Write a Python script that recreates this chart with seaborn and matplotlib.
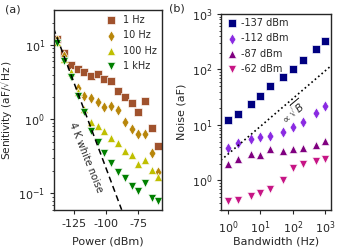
import numpy as np
import pandas as pd
import matplotlib
matplotlib.use('Agg')
import matplotlib.pyplot as plt
import matplotlib.ticker as mticker
import seaborn as sns

# Panel (a): sensitivity vs drive power
power_dbm = [-138, -132.5, -127.5, -122, -117, -112, -106.5, -101.5,
             -96, -91, -85.5, -80, -75, -70, -64.5, -59.5]
sens_1hz = [11.9, 7.7, 5.3, 4.7, 4.3, 3.8, 4.1, 3.45, 3.3, 2.42, 2.0, 1.64, 1.24, 1.76, 0.77, 0.44]
sens_10hz = [11.7, 7.1, 3.9, 2.63, 2.08, 1.96, 1.70, 1.48, 1.50, 1.33, 0.93, 0.74, 0.64, 0.64, 0.35, 0.194]
sens_100hz = [11.0, 6.5, 4.3, 2.32, 1.37, 0.92, 0.81, 0.69, 0.56, 0.48, 0.37, 0.33, 0.25, 0.28, 0.206, 0.166]
sens_1khz = [10.6, 6.0, 3.7, 2.05, 1.25, 0.69, 0.49, 0.35, 0.256, 0.194, 0.161, 0.124, 0.106, 0.136, 0.087, 0.079]
white_power = [-141, -88]
white_sens = [17.0, 0.06]

# Panel (b): noise vs bandwidth
bandwidth = [1, 2, 5, 10, 20, 50, 100, 200, 500, 1000]
noise_137 = [12.1, 15.8, 24.0, 32.9, 49.9, 73.8, 103, 147, 235, 325]
noise_112 = [3.84, 4.73, 5.58, 6.2, 6.27, 7.41, 9.13, 11.3, 16.5, 21.7]
noise_87 = [2.02, 2.43, 3.0, 2.9, 3.68, 3.4, 3.62, 3.84, 4.4, 5.05]
noise_62 = [0.436, 0.452, 0.531, 0.589, 0.698, 1.03, 1.69, 1.97, 2.26, 2.44]
sqrt_bw = [0.6, 1600]
sqrt_noise = [2.32, 120]
bw_ticks = [1, 10, 100, 1000]

sns.set_style('ticks')
plt.rcParams['font.family'] = ['DejaVu Sans']
plt.rcParams['mathtext.fontset'] = 'dejavusans'
plt.rcParams['axes.unicode_minus'] = False
plt.rcParams['font.size'] = 8
plt.rcParams['xtick.major.size'] = 3
plt.rcParams['ytick.major.size'] = 3
plt.rcParams['ytick.minor.size'] = 1.8
plt.rcParams['axes.linewidth'] = 1.0

fig = plt.figure(figsize=(3.38, 2.5), dpi=100)
ax1 = fig.add_axes([0.160, 0.16, 0.3195, 0.80])
ax2 = fig.add_axes([0.655, 0.16, 0.325, 0.784])

left_series = [
    ('1 Hz', sens_1hz, 's', 'sienna'),
    ('10 Hz', sens_10hz, 'd', 'darkgoldenrod'),
    ('100 Hz', sens_100hz, '^', 'y'),
    ('1 kHz', sens_1khz, 'v', 'green'),
]
for label, vals, mk, col in left_series:
    df = pd.DataFrame({'power': power_dbm, 'sens': vals})
    sns.scatterplot(data=df, x='power', y='sens', marker=mk, color=col,
                    s=34, label=label, ax=ax1)
ax1.plot(white_power, white_sens, ls='--', color='k', lw=1.1, dashes=(4, 2.5))
ax1.set_yscale('log')
ax1.set_xlim(-140.5, -56.6)
ax1.set_ylim(0.0596, 29.7)
ax1.set_xticks([-125, -100, -75])
ax1.set_xticklabels(['-125', '-100', '-75'])
ax1.set_xlabel('Power (dBm)')
ax1.set_ylabel(r'Senitivity (aF/$\sqrt{\mathrm{Hz}}$)', fontsize=7.6)
ax1.xaxis.set_label_coords(0.5, -0.13)
ax1.yaxis.set_label_coords(-0.36, 0.5)
ax1.text(-116, 0.30, '4 K white noise', rotation=-68, ha='center', va='center',
         fontsize=7)
ax1.legend(loc='upper right', frameon=False, fontsize=7, handletextpad=0.3,
           borderaxespad=0.2, labelspacing=0.55, borderpad=0.3)

right_series = [
    ('-137 dBm', noise_137, 's', 'navy'),
    ('-112 dBm', noise_112, 'd', 'blueviolet'),
    ('-87 dBm', noise_87, '^', 'purple'),
    ('-62 dBm', noise_62, 'v', 'mediumvioletred'),
]
for label, vals, mk, col in right_series:
    df = pd.DataFrame({'bw': bandwidth, 'noise': vals})
    sns.scatterplot(data=df, x='bw', y='noise', marker=mk, color=col,
                    s=34, label=label, ax=ax2)
ax2.plot(sqrt_bw, sqrt_noise, ls=':', color='k', lw=1.2)
ax2.set_xscale('log')
ax2.set_yscale('log')
ax2.set_xlim(0.62, 1530)
ax2.set_ylim(0.294, 1000)
ax2.xaxis.set_major_locator(mticker.FixedLocator(bw_ticks))
ax2.xaxis.set_major_formatter(mticker.LogFormatterSciNotation())
ax2.xaxis.set_minor_locator(mticker.NullLocator())
ax2.set_xlabel('Bandwidth (Hz)')
ax2.set_ylabel('Noise (aF)')
ax2.xaxis.set_label_coords(0.5, -0.135)
ax2.yaxis.set_label_coords(-0.32, 0.5)
ax2.text(95, 17, r'$\propto\sqrt{B}$', rotation=40, ha='center', va='center',
         fontsize=7.5)
ax2.legend(loc='upper left', frameon=False, fontsize=7, handletextpad=0.3,
           handlelength=1.3, borderaxespad=0.1, labelspacing=0.55, borderpad=0.3)

fig.text(0.037, 0.96, '(a)', ha='center', va='center', fontsize=8)
fig.text(0.524, 0.965, '(b)', ha='center', va='center', fontsize=8)

fig.savefig('out.png', dpi=100)
